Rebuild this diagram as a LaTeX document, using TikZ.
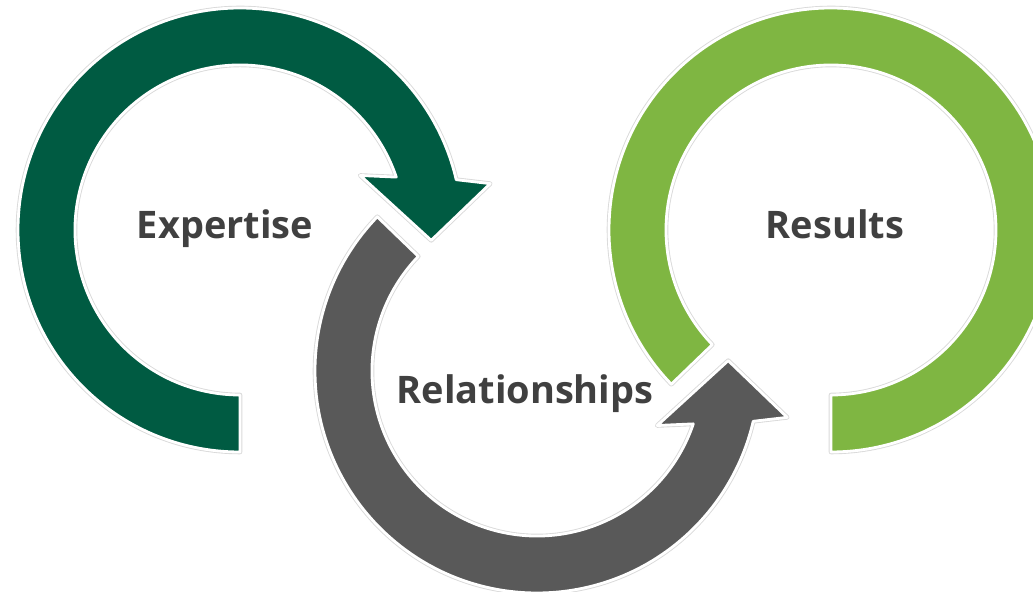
\documentclass[tikz,border=0pt]{standalone}
\usepackage{fontspec}
\setmainfont{Open Sans}
\definecolor{darkgreen}{HTML}{005B42}
\definecolor{lightgreen}{HTML}{7FB642}
\definecolor{arrowgray}{HTML}{595959}
\definecolor{textgray}{HTML}{404040}

\begin{document}
\begin{tikzpicture}[every node/.style={text=textgray, anchor=base, inner sep=0pt,
font=\fontsize{21.6}{25}\selectfont\bfseries},
ring/.style={fill=#1, draw=white, line width=1.6pt, line join=round,
preaction={draw=black!15, line width=2.6pt, line join=round}}]
\useasboundingbox (0,0) rectangle (20.66,11.84);
\clip (0,0) rectangle (20.66,11.84);
\coordinate (c1) at (4.8,7.24);
\coordinate (c2) at (10.74,4.42);
\coordinate (c3) at (16.62,7.24);
% expertise
\begin{scope}[shift={(c1)}]
\path[ring=darkgreen] (270:4.44) arc[start angle=270, end angle=13.1, radius=4.44cm]
  -- (10.5:5.09) -- (-3.1:3.83) -- (24.4:2.64) -- (18.7:3.3)
  arc[start angle=18.7, end angle=270, radius=3.3cm] -- cycle;
\end{scope}
% results
\begin{scope}[shift={(c3)}]
\path[ring=lightgreen] (224:4.44) arc[start angle=224, end angle=-90, radius=4.44cm]
  -- (-90:3.3) arc[start angle=-90, end angle=224, radius=3.3cm] -- cycle;
\end{scope}
% relationships
\begin{scope}[shift={(c2)}]
\path[ring=arrowgray] (136:4.44) arc[start angle=136, end angle=346.9, radius=4.44cm]
  -- (349.5:5.09) -- (3.1:3.83) -- (335.6:2.64) -- (341.3:3.3)
  arc[start angle=341.3, end angle=136, radius=3.3cm] -- cycle;
\end{scope}
\node (expertise) at ([xshift=-0.3cm, yshift=-0.18cm]c1) {Expertise};
\node (results) at ([xshift=0.08cm, yshift=-0.18cm]c3) {Results};
\node (relationships) at ([xshift=-0.24cm, yshift=-0.66cm]c2) {Relationships};
\end{tikzpicture}
\end{document}
